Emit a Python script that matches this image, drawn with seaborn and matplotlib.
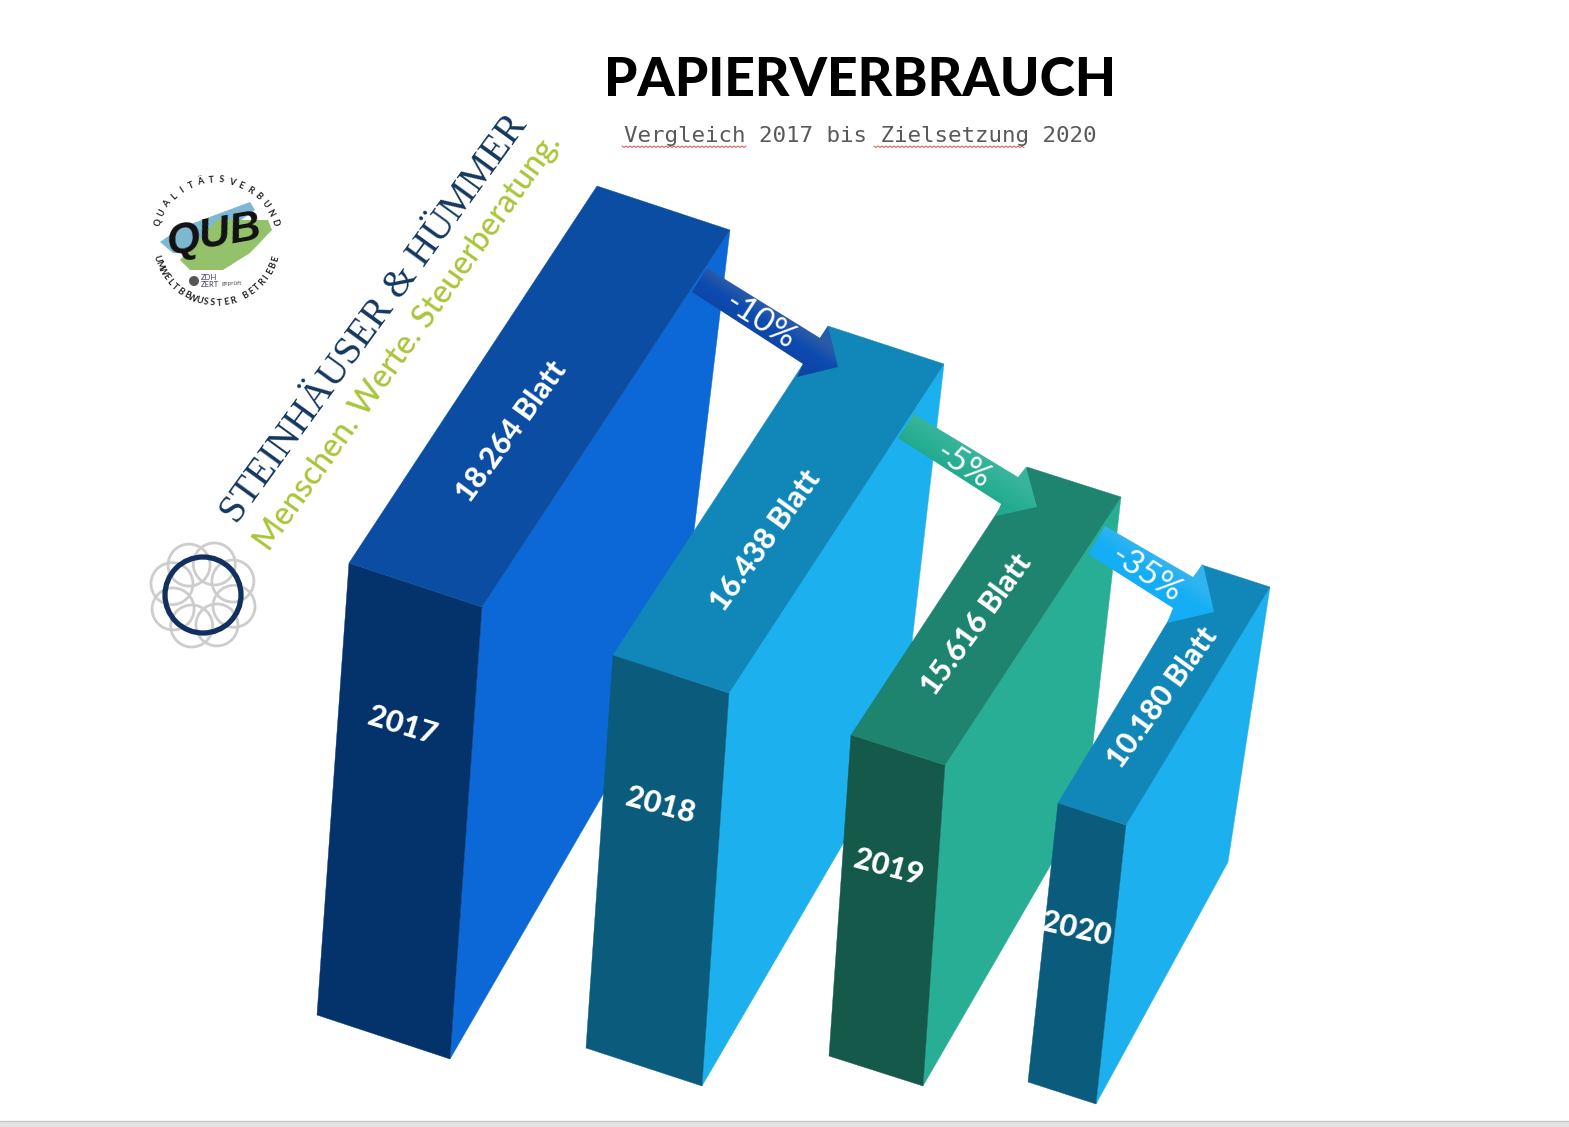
import numpy as np
import pandas as pd
import seaborn as sns
import matplotlib.pyplot as plt
from matplotlib.colors import LinearSegmentedColormap
from matplotlib.patches import Circle, Polygon
from matplotlib.transforms import Affine2D

# data
years = ['2017', '2018', '2019', '2020']
sheets = [18264, 16438, 15616, 10180]
changes = ['-10%', '-5%', '-35%']

# block geometry in picture pixels, the drawing is not to scale
corner = [(349, 563), (613, 655), (851, 735), (1058, 803)]
width_vec = [(133, 44), (116, 38), (94, 30), (68, 22)]
drop_vec = [(-32, 452), (-27, 393), (-22, 321), (-30, 279)]
depth_vec = [(248, -377), (215, -329), (176, -268), (144, -238)]
back_drop = [(-52, 435), (-44, 382), (-35, 307), (-42, 275)]

front_colors = ['#04336B', '#0B5C7C', '#15594A', '#0B5C7C']
top_colors = ['#0A4DA2', '#1087B8', '#1E836F', '#1087B8']
side_colors = ['#0B68D6', '#1CB0EE', '#29AE96', '#1CB0EE']

sheet_pos = [(512, 432), (766, 541), (977, 625), (1162, 698)]
year_pos = [(402, 726), (660, 805), (888, 867), (1076, 929)]
year_rot = [-17, -15, -15, -13]

arrow_shapes = [
    [(707, 268), (692, 292), (803, 364), (797, 377), (838, 367), (828, 326), (820, 338)],
    [(914, 414), (898, 438), (1001, 504), (996, 516), (1037, 507), (1026, 467), (1018, 477)],
    [(1105, 526), (1088, 554), (1173, 608), (1167, 623), (1214, 612), (1203, 564), (1193, 577)],
]
arrow_stops = [
    ['#2A5AA8', '#0C4BB0', '#0E46A6'],
    ['#38B59C', '#2BB096', '#22AA8E'],
    ['#30B4F0', '#14AEF5', '#14AEF5'],
]
change_pos = [(760, 322), (963, 466), (1146, 575)]
change_rot = [-33, -33, -33]

W, H = 1569, 1127

sns.set_theme(style='white')
plt.rcParams['font.family'] = ['Lato', 'DejaVu Sans']

fig = plt.figure(figsize=(W / 100, H / 100), dpi=100)
ax = fig.add_axes([0, 0, 1, 1])
df = pd.DataFrame({'year': years, 'sheets': sheets})


def skewed_bars(origins, across, down, colors, zorder):
    # barplot gives one rectangle per year, each one is sheared onto its face
    n = len(ax.patches)
    sns.barplot(data=df, x='year', y='sheets', color='gray', ax=ax)
    for i, bar in enumerate(ax.patches[n:]):
        x0, w, h = bar.get_x(), bar.get_width(), bar.get_height()
        ox, oy = origins[i]
        ux, uy = across[i]
        vx, vy = down[i]
        skew = Affine2D.from_values(ux / w, uy / w, -vx / h, -vy / h,
                                    ox + vx - x0 * ux / w, oy + vy - x0 * uy / w)
        bar.set_transform(skew + ax.transData)
        bar.set_facecolor(colors[i])
        bar.set_edgecolor(colors[i])
        bar.set_linewidth(0.3)
        bar.set_zorder(zorder + i * 3)


front_top = [(c[0], c[1]) for c in corner]
back_top = [(c[0] + d[0], c[1] + d[1]) for c, d in zip(corner, depth_vec)]
up_vec = [(-d[0], -d[1]) for d in depth_vec]

skewed_bars(front_top, width_vec, drop_vec, front_colors, 3)
skewed_bars(back_top, width_vec, up_vec, top_colors, 3)

# side faces narrow towards the back so they are not parallelograms
for i in range(len(years)):
    near_top = np.array(corner[i]) + np.array(width_vec[i])
    far_top = near_top + np.array(depth_vec[i])
    near_bottom = near_top + np.array(drop_vec[i])
    far_bottom = far_top + np.array(back_drop[i])
    pts = np.array([near_top, far_top, far_bottom, near_bottom])
    ax.fill(pts[:, 0], pts[:, 1], color=side_colors[i], lw=0.3, zorder=2 + i * 3)

# arrows with gradient
for shape, stops in zip(arrow_shapes, arrow_stops):
    pts = np.array(shape, dtype=float)
    x0, x1 = pts[:, 0].min(), pts[:, 0].max()
    y0, y1 = pts[:, 1].min(), pts[:, 1].max()
    X, Y = np.meshgrid(np.linspace(x0, x1, 200), np.linspace(y0, y1, 200))
    shaft = pts[2] - pts[1]
    normal = np.array([-shaft[1], shaft[0]]) / np.hypot(*shaft)
    t = (X - pts[0, 0]) * normal[0] + (Y - pts[0, 1]) * normal[1]
    t = np.clip(t / np.hypot(*(pts[1] - pts[0])), 0, 1)
    cmap = LinearSegmentedColormap.from_list('arrow', stops)
    im = ax.imshow(t, extent=[x0, x1, y1, y0], cmap=cmap, aspect='auto', zorder=20)
    clip = Polygon(pts, closed=True, transform=ax.transData)
    im.set_clip_path(clip)

# texts on the blocks
for i in range(len(years)):
    label = f'{sheets[i]:,}'.replace(',', '.') + ' Blatt'
    ax.text(sheet_pos[i][0], sheet_pos[i][1], label, color='white', fontsize=21.5,
            fontweight='black', rotation=54, rotation_mode='anchor',
            ha='center', va='center', zorder=30)
    ax.text(year_pos[i][0], year_pos[i][1], years[i], color='white', fontsize=22,
            fontweight='black', rotation=year_rot[i], rotation_mode='anchor',
            ha='center', va='center', zorder=30)
for i in range(len(changes)):
    ax.text(change_pos[i][0], change_pos[i][1], changes[i], color='white', fontsize=24,
            rotation=change_rot[i], rotation_mode='anchor',
            ha='center', va='center', zorder=30)

# heading
ax.text(860, 81, 'PAPIERVERBRAUCH', color='black', fontsize=38.4, fontweight='black',
        ha='center', va='center')
ax.text(860, 136, 'Vergleich 2017 bis Zielsetzung 2020', color='#595959', fontsize=16.2,
        family='DejaVu Sans Mono', ha='center', va='center')
for start, stop in [(622, 746), (874, 1024)]:
    xs = np.arange(start, stop + 1, 2)
    ys = 146 + (np.arange(len(xs)) % 2) * 1.5
    ax.plot(xs, ys, color='#E0504A', lw=0.7)

# company name
ax.text(375, 319, 'STEINHÄUSER & HÜMMER', color='#14375F', fontsize=28.3,
        family='Liberation Serif', rotation=54, rotation_mode='anchor',
        ha='center', va='center')
ax.text(408, 342, 'Menschen. Werte. Steuerberatung.', color='#A8C63A', fontsize=23.5,
        fontweight='medium', rotation=54.5, rotation_mode='anchor', ha='center', va='center')

# ring logo
for a in np.deg2rad(np.arange(0, 360, 45) + 20):
    ax.add_patch(Circle((203 + 33 * np.cos(a), 595 + 33 * np.sin(a)), 21, fill=False,
                        ec='#CDCDCD', lw=2))
ax.add_patch(Circle((203, 595), 38, fill=False, ec='#12305F', lw=3.8, zorder=3))

# QUB seal
blue_blob = [(160, 242), (180, 228), (250, 202), (255, 210), (230, 228), (207, 253), (173, 253)]
green_blob = [(217, 220), (268, 220), (272, 230), (250, 253), (223, 270), (190, 270), (180, 260)]
ax.fill(*zip(*blue_blob), color='#7DB7D0', lw=0)
ax.fill(*zip(*green_blob), color='#93C26B', lw=0)
ax.text(214, 235, 'QUB', color='#111111', fontsize=31, fontweight='black', style='italic',
        family='Liberation Sans', rotation=10, rotation_mode='anchor',
        ha='center', va='center')
seal_c = (216, 241.5)
top_word = 'QUALITÄTSVERBUND'
for ang, ch in zip(np.linspace(-162, -18, len(top_word)), top_word):
    a = np.deg2rad(ang)
    ax.text(seal_c[0] + 61.5 * np.cos(a), seal_c[1] + 61.5 * np.sin(a), ch, fontsize=6.5,
            fontweight='bold', color='#222222', rotation=-ang - 90, rotation_mode='anchor',
            ha='center', va='center')
low_word = 'UMWELTBEWUSSTER BETRIEBE'
for ang, ch in zip(np.linspace(164, 16, len(low_word)), low_word):
    a = np.deg2rad(ang)
    ax.text(seal_c[0] + 61.5 * np.cos(a), seal_c[1] + 61.5 * np.sin(a), ch, fontsize=6.5,
            fontweight='bold', color='#222222', rotation=90 - ang, rotation_mode='anchor',
            ha='center', va='center')
ax.add_patch(Circle((194, 281), 5, color='#555555', lw=0))
ax.text(201, 281, 'ZDH\nZERT', fontsize=5.5, color='#3A3A6A', va='center', linespacing=0.9)
ax.text(222, 284, 'geprüft', fontsize=4.5, color='#555555', va='center')

# window strip at the bottom edge
ax.axhspan(1121, H, color='#E4E4E4', lw=0)
ax.axhline(1121, color='#C8C8C8', lw=1)

ax.set_xlim(0, W)
ax.set_ylim(H, 0)
ax.axis('off')
fig.savefig('out.png', dpi=100, facecolor='white')
